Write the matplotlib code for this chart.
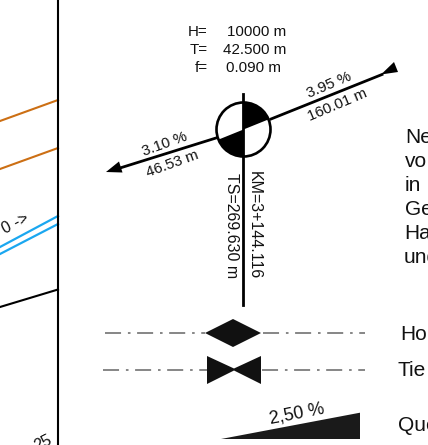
import matplotlib
matplotlib.use("Agg")
import matplotlib.pyplot as plt
from matplotlib.patches import Circle, Polygon, Wedge

W, H = 428, 445

# pixel coordinates
orange_lines = [((0, 121), (58, 100)), ((0, 169), (58, 148))]
blue_lines = [((0, 247), (58, 216)), ((0, 254), (58, 224))]
black_line = ((0, 307), (58, 289.5))
border_x = 58

center = (243.5, 129.5)
radius = 27
stem_x = 243.5
stem_top = 94
stem_bottom = 305

grade_left = ((216, 138), (120, 168))
grade_right = ((271, 119), (382, 74.5))
arrow_left = [(106, 172), (119, 161.5), (122.5, 172.5)]
arrow_right = [(394, 62), (398, 72), (381, 74.5)]

params = [("H=", "10000 m", 36.5, 286), ("T=", "42.500 m", 54, 286), ("f=", "0.090 m", 72, 281)]
grade_labels = [
    ("3.10 %", 165, 144, 20),
    ("46.53 m", 172, 164, 20),
    ("3.95 %", 329, 85, 23),
    ("160.01 m", 337, 105, 23),
]
station_labels = [("TS=269.630 m", 232, 226), ("KM=3+144.116", 254, 225)]

side_text = [("Ne", 405, 143), ("vo", 405, 167), ("in", 405, 191), ("Ge", 405, 215), ("Ha", 404, 239), ("und", 404, 263)]
legend_text = [("Ho", 400, 340), ("Tie", 398, 376), ("Que", 398, 431)]

dash_rows = [(104.7, 205, 333), (263, 365, 333), (103.3, 207, 369.5), (262, 365, 369.5)]
diamond = [(205, 333), (233, 319), (261, 333), (233, 347)]
bowtie = [(207, 356), (234, 368.5), (261, 356), (261, 384), (234, 370.5), (207, 384)]
wedge = [(221, 439), (360, 412.7), (360, 439)]
crossfall = ("2,50 %", 297, 413.7, 11)

plt.rcParams["font.family"] = ["Liberation Sans", "DejaVu Sans"]

fig = plt.figure(figsize=(W / 100, H / 100), dpi=100)
ax = fig.add_axes([0, 0, 1, 1])
ax.set_xlim(0, W)
ax.set_ylim(H, 0)
ax.axis("off")

for (a, b) in orange_lines:
    ax.plot([a[0], b[0]], [a[1], b[1]], color="#cc6f14", lw=1.5)
for (a, b) in blue_lines:
    ax.plot([a[0], b[0]], [a[1], b[1]], color="#1aa7f0", lw=1.6)
ax.plot([black_line[0][0], black_line[1][0]], [black_line[0][1], black_line[1][1]], color="black", lw=1.5)
ax.plot([border_x, border_x], [0, H], color="black", lw=1.5)

# station symbol
ax.add_patch(Circle(center, radius, fc="white", ec="black", lw=1.9, zorder=2))
ax.add_patch(Wedge(center, radius, -90, -22, fc="black", ec="none", zorder=3))
ax.add_patch(Wedge(center, radius, 90, 158, fc="black", ec="none", zorder=3))
ax.plot([stem_x, stem_x], [stem_top, stem_bottom], color="black", lw=2.0, zorder=4)
for seg in (grade_left, grade_right):
    ax.plot([seg[0][0], seg[1][0]], [seg[0][1], seg[1][1]], color="black", lw=2.0, zorder=4)
ax.add_patch(Polygon(arrow_left, fc="black", ec="none", zorder=4))
ax.add_patch(Polygon(arrow_right, fc="black", ec="none", zorder=4))

for name, value, y, xr in params:
    ax.text(207.5, y, name, ha="right", va="baseline", fontsize=10.9, color="#111111")
    ax.text(xr, y, value, ha="right", va="baseline", fontsize=10.9, color="#111111")
for s, x, y, rot in grade_labels:
    ax.text(x, y, s, ha="center", va="center", rotation=rot, rotation_mode="anchor", fontsize=10.9, color="#111111")
for s, x, y in station_labels:
    ax.text(x, y, s, ha="center", va="center", rotation=-90, fontsize=11.5, color="#111111")

for s, x, y in side_text + legend_text:
    ax.text(x, y, s, ha="left", va="baseline", fontsize=15, color="#111111", clip_on=True)

ax.text(15, 224, "0 ->", ha="center", va="center", rotation=27, rotation_mode="anchor", fontsize=11.5, color="#111111")
ax.text(43, 443, "25", ha="center", va="center", rotation=27, rotation_mode="anchor", fontsize=11.5, color="#111111")

# legend symbols
for x0, x1, y in dash_rows:
    ax.plot([x0, x1], [y, y], color="#666666", lw=1.1, dashes=(10.5, 4.5, 1.7, 4.3))
ax.add_patch(Polygon(diamond, fc="#111111", ec="none"))
ax.add_patch(Polygon(bowtie, fc="#111111", ec="none"))
ax.add_patch(Polygon(wedge, fc="#1a1a1a", ec="none"))
s, x, y, rot = crossfall
ax.text(x, y, s, ha="center", va="center", rotation=rot, rotation_mode="anchor", fontsize=12.9, color="#111111")

fig.savefig("out.png", dpi=100)
plt.close(fig)
